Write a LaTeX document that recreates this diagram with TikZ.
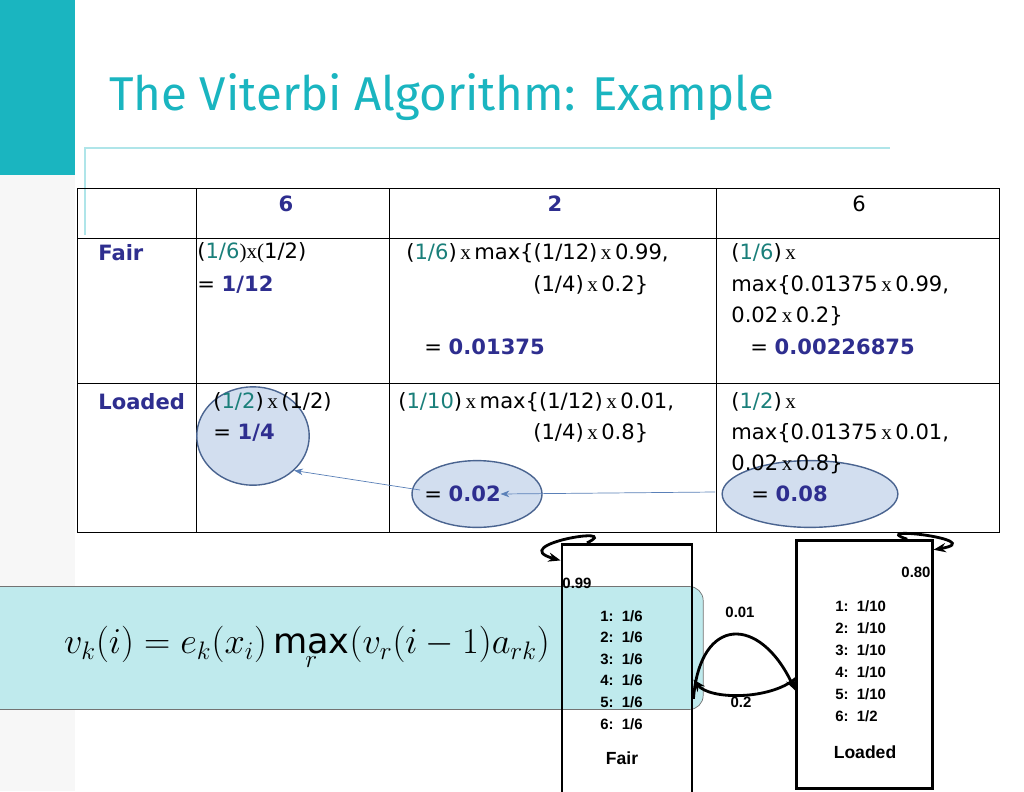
\documentclass[tikz,border=0pt]{standalone}
\usepackage{fontspec}
\setmainfont{DejaVu Sans}
\newfontfamily\titlefont{Fira Sans}
\newfontfamily\hmmfont{Liberation Sans}
\newfontfamily\xfont{Liberation Serif}
\usetikzlibrary{arrows.meta,shapes.geometric}
\definecolor{teal1}{HTML}{1AB5C0}
\definecolor{navy}{HTML}{2E2E8F}
\definecolor{green1}{HTML}{1A7F7A}
\definecolor{ellfill}{HTML}{D2DEEF}
\definecolor{elldraw}{HTML}{4A6490}
\definecolor{arrblue}{HTML}{5A80B8}
\newcommand\tx{{\xfont\,x\,}}
\newcommand\nv[1]{\textcolor{navy}{\textbf{#1}}}
\newcommand\gr[1]{\textcolor{green1}{#1}}

\begin{document}
\begin{tikzpicture}[x=0.02cm,y=-0.02cm,
	cell/.style={anchor=west,inner sep=0pt,font=\fontsize{12}{15}\selectfont},
	pick/.style={ellipse,draw=elldraw,thick,fill=ellfill,inner sep=0pt},
	hmmline/.style={anchor=west,inner sep=0pt,font=\hmmfont\bfseries\fontsize{8.5}{10}\selectfont},
	hmmbox/.style={draw,line width=1.6pt},
	hmmarrow/.style={line width=1.6pt,-{Stealth[length=7pt]}}]
	%background
	\useasboundingbox (0,0) rectangle (1024,791);
	\fill[white] (0,0) rectangle (1024,791);
	\fill[black!3] (0,0) rectangle (75,791);
	\fill[teal1] (0,0) rectangle (75,175);
	\node[anchor=west,text=teal1,font=\titlefont\fontsize{27}{30}\selectfont] (title) at (103,97) {The Viterbi Algorithm: Example};
	\draw[teal1!35,line width=1.2pt] (85,235) -- (85,148) -- (890,148);
	
	%grid
	\draw[thin] (77,188) rectangle (999,532);
	\foreach \x in {196,389,716} \draw[thin] (\x,188) -- (\x,532);
	\foreach \y in {238,383} \draw[thin] (77,\y) -- (999,\y);
	
	%headers
	\node[cell,anchor=center] (h1) at (286,204) {\nv{6}};
	\node[cell,anchor=center] (h2) at (555,204) {\nv{2}};
	\node[cell,anchor=center] (h3) at (859,204) {6};
	\node[cell] (fair) at (98,253) {\nv{Fair}};
	\node[cell] (loaded) at (98,402) {\nv{Loaded}};
	
	%marks
	\node[pick,minimum width=64,minimum height=56] (m14) at (253,436) {};
	\node[pick,minimum width=74,minimum height=38] (m002) at (477,494) {};
	\node[pick,minimum width=100,minimum height=38] (m008) at (810,494) {};
	
	%fair row
	\node[cell] (f11) at (197,253) {(\gr{1/6}{\xfont)x(}1/2)};
	\node[cell] (f12) at (197,285) {= \nv{1/12}};
	\node[cell] (f21) at (406,253) {(\gr{1/6})\tx max\{(1/12)\tx 0.99,};
	\node[cell] (f22) at (533,285) {(1/4)\tx 0.2\}};
	\node[cell] (f23) at (424,347) {= \nv{0.01375}};
	\node[cell] (f31) at (731,253) {(\gr{1/6})\tx};
	\node[cell] (f32) at (731,285) {max\{0.01375\tx 0.99,};
	\node[cell] (f33) at (731,316) {0.02\tx 0.2\}};
	\node[cell] (f34) at (750,347) {= \nv{0.00226875}};
	
	%loaded row
	\node[cell] (l11) at (213,402) {(\gr{1/2})\tx (1/2)};
	\node[cell] (l12) at (213,433) {= \nv{1/4}};
	\node[cell] (l21) at (398,402) {(\gr{1/10})\tx max\{(1/12)\tx 0.01,};
	\node[cell] (l22) at (533,433) {(1/4)\tx 0.8\}};
	\node[cell] (l23) at (424,494) {= \nv{0.02}};
	\node[cell] (l31) at (731,402) {(\gr{1/2})\tx};
	\node[cell] (l32) at (731,433) {max\{0.01375\tx 0.01,};
	\node[cell] (l33) at (731,464) {0.02\tx 0.8\}};
	\node[cell] (l34) at (751,494) {= \nv{0.08}};
	
	%backtrack
	\coordinate (b1) at (420,490);
	\coordinate (b2) at (715,492);
	\draw[arrblue,-{Stealth[length=5pt]}] (b1) -- (m14.-40);
	\draw[arrblue,-{Stealth[length=5pt]}] (b2) -- ([xshift=-24]m002.east);
	
	%formula
	\node[draw=black!55,fill=teal1!28,rounded corners=8,minimum width=451,minimum height=70,font=\fontsize{20}{22}\selectfont] (formula) at (307,648)
	{$v_k(i)=e_k(x_i)\max\limits_r\bigl(v_r(i-1)a_{rk}\bigr)$};
	
	%hmm
	\node[hmmbox,minimum width=74,minimum height=142] (fbox) at (627,669) {};
	\node[hmmbox,minimum width=77,minimum height=141] (lbox) at (864.5,664.5) {};
	\foreach \i/\y in {1/616,2/637,3/659,4/680,5/702,6/724}
		\node[hmmline] (fl\i) at (600,\y) {\i:\ \ 1/6};
	\foreach \i/\v/\y in {1/1\slash10/606,2/1\slash10/628,3/1\slash10/650,4/1\slash10/672,5/1\slash10/694,6/1\slash2/716}
		\node[hmmline] (ll\i) at (835,\y) {\i:\ \ \v};
	\node[font=\hmmfont\bfseries\fontsize{10}{12}\selectfont] (fname) at (622,758) {Fair};
	\node[font=\hmmfont\bfseries\fontsize{10}{12}\selectfont] (lname) at (865,752) {Loaded};
	\draw[hmmarrow] ([yshift=-17]fbox.east) .. controls (700,615) and (760,615) .. ([yshift=-15]lbox.west);
	\draw[hmmarrow] ([yshift=-8]lbox.west) .. controls (770,700) and (710,700) .. ([yshift=-6]fbox.east);
	\draw[hmmarrow] ([xshift=15]fbox.north west) .. controls (625,525) and (505,545) .. ([yshift=-10]fbox.north west);
	\draw[hmmarrow] ([xshift=-15]lbox.north east) .. controls (865,525) and (990,540) .. ([yshift=-6]lbox.north east);
	\node[font=\hmmfont\bfseries\fontsize{8.5}{10}\selectfont] (p99) at (577,583) {0.99};
	\node[font=\hmmfont\bfseries\fontsize{8.5}{10}\selectfont] (p80) at (916,572) {0.80};
	\node[font=\hmmfont\bfseries\fontsize{8.5}{10}\selectfont] (p01) at (740,612) {0.01};
	\node[font=\hmmfont\bfseries\fontsize{8.5}{10}\selectfont] (p02) at (741,702) {0.2};
\end{tikzpicture}
\end{document}
